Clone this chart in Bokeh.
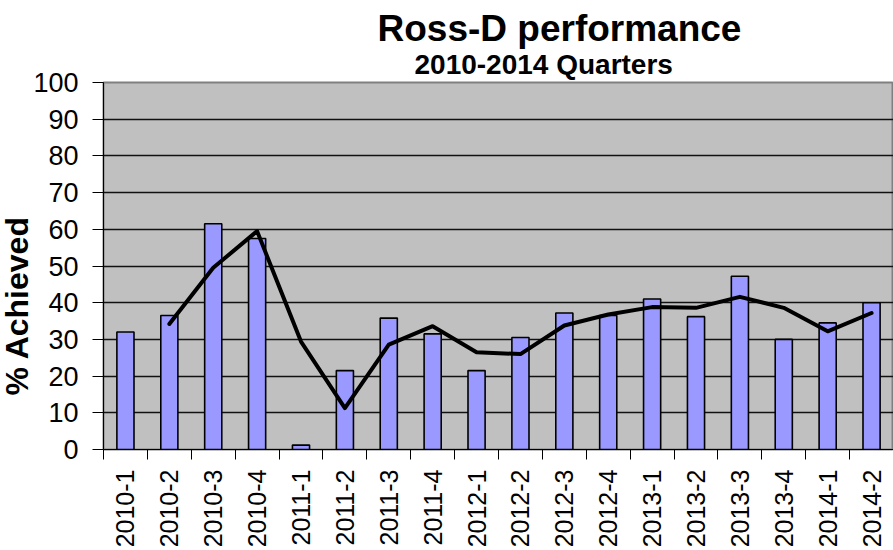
import math
from bokeh.plotting import figure
from bokeh.models import ColumnDataSource, FixedTicker, Title, Range1d
from bokeh.embed import file_html
from bokeh.resources import INLINE

# ---- data ----
quarters = ["2010-1", "2010-2", "2010-3", "2010-4",
            "2011-1", "2011-2", "2011-3", "2011-4",
            "2012-1", "2012-2", "2012-3", "2012-4",
            "2013-1", "2013-2", "2013-3", "2013-4",
            "2014-1", "2014-2"]
achieved = [32.0, 36.5, 61.5, 57.5,
            1.2, 21.5, 35.8, 31.5,
            21.5, 30.5, 37.2, 36.5,
            41.0, 36.2, 47.2, 30.0,
            34.5, 40.0]
# 2-period moving-average trend line (as drawn, starts at 2010-2)
trend_quarters = quarters[1:]
trend_values = [34.2, 49.5, 59.5,
                29.4, 11.3, 28.6, 33.6,
                26.5, 26.0, 33.8, 36.8,
                38.8, 38.6, 41.6, 38.6,
                32.2, 37.2]
y_ticks = [0, 10, 20, 30, 40, 50, 60, 70, 80, 90, 100]
title_text = "Ross-D performance"
subtitle_text = "2010-2014 Quarters"
y_label_text = "% Achieved"

FONT = "Liberation Sans"

pos = {q: i + 1 for i, q in enumerate(quarters)}
bar_src = ColumnDataSource(dict(x=[pos[q] for q in quarters], top=achieved))
line_src = ColumnDataSource(dict(x=[pos[q] for q in trend_quarters], y=trend_values))

p = figure(width=893, height=550, output_backend="svg", toolbar_location=None,
           x_range=Range1d(0.5, len(quarters) + 0.5), y_range=Range1d(0, 100),
           min_border_left=103, min_border_right=0, min_border_top=82, min_border_bottom=0)

p.background_fill_color = "#C0C0C0"
p.border_fill_color = "white"
p.outline_line_color = "#808080"
p.outline_line_width = 2

p.vbar(x="x", top="top", width=0.39, bottom=0, source=bar_src,
       fill_color="#9999FF", line_color="black", line_width=1.6)
p.line(x="x", y="y", source=line_src, line_color="black", line_width=4,
       line_join="round", line_cap="round")

# grid
p.xgrid.visible = False
p.ygrid.ticker = FixedTicker(ticks=y_ticks[1:-1])
p.ygrid.grid_line_color = "#111111"
p.ygrid.grid_line_width = 1.3

# y axis
yax = p.yaxis[0]
yax.ticker = FixedTicker(ticks=y_ticks)
yax.axis_label = None
yax.major_label_text_font = FONT
yax.major_label_text_font_size = "27px"
yax.major_label_text_color = "black"
yax.major_tick_out = 11
yax.major_tick_in = 0
yax.minor_tick_line_color = None
yax.major_label_standoff = 14
yax.axis_line_color = "black"
yax.major_tick_line_color = "black"

# x axis
xax = p.xaxis[0]
xax.ticker = FixedTicker(ticks=[pos[q] for q in quarters],
                         minor_ticks=[i + 0.5 for i in range(len(quarters) + 1)])
xax.major_label_overrides = {pos[q]: q for q in quarters}
xax.axis_label = None
xax.major_label_orientation = math.pi / 2
xax.major_label_text_font = FONT
xax.major_label_text_font_size = "25px"
xax.major_label_text_color = "black"
xax.major_tick_line_color = None
xax.major_tick_out = 0
xax.major_tick_in = 0
xax.minor_tick_out = 10
xax.minor_tick_in = 0
xax.minor_tick_line_color = "black"
xax.major_label_standoff = 10
xax.axis_line_color = "black"

# y-axis title on the far left, shifted down like the reference
p.add_layout(Title(text=y_label_text, align="left", offset=54,
                   text_font=FONT, text_font_size="32px", text_font_style="bold",
                   text_color="black", standoff=-8), "left")

# titles (subtitle first -> closer to the plot)
p.add_layout(Title(text=subtitle_text, align="left", offset=311,
                   text_font=FONT, text_font_size="28px", text_font_style="bold",
                   text_color="black", standoff=5), "above")
p.add_layout(Title(text=title_text, align="left", offset=274,
                   text_font=FONT, text_font_size="37px", text_font_style="bold",
                   text_color="black", standoff=-8), "above")

open("out.html", "w").write(file_html(p, INLINE))
